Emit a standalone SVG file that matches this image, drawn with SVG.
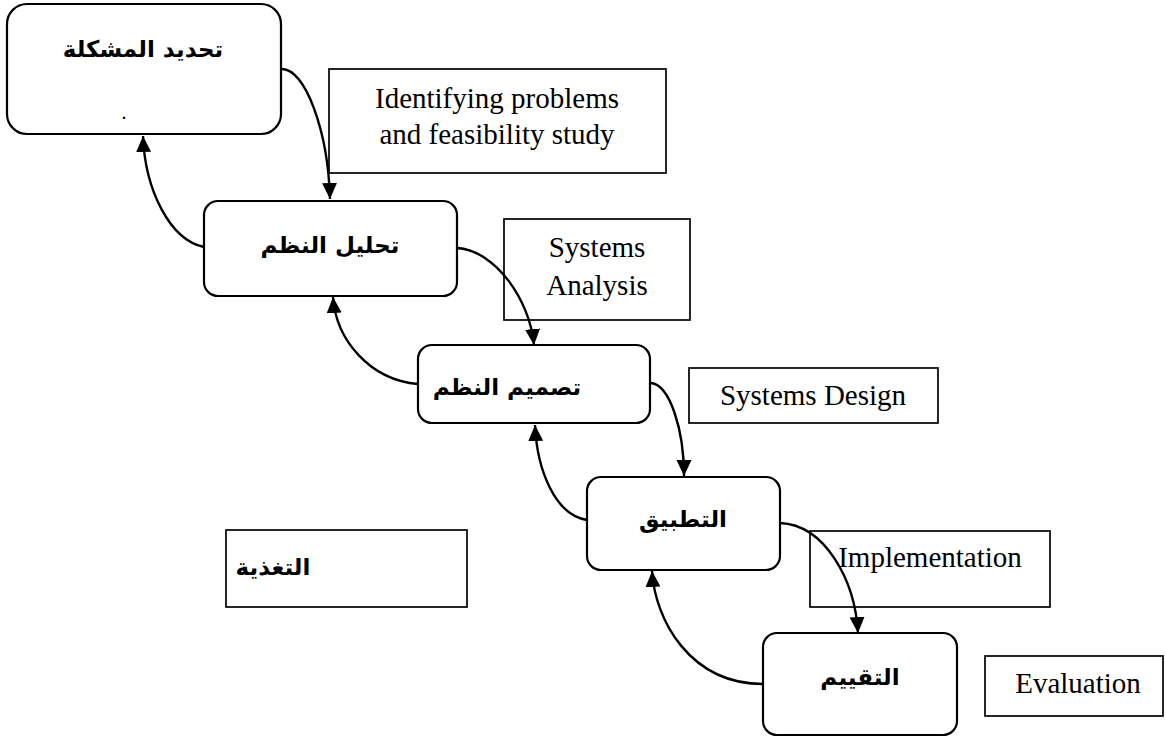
<svg xmlns="http://www.w3.org/2000/svg" width="1166" height="737" viewBox="0 0 1166 737">
  <style>
    .node { fill: #ffffff; stroke: #000000; stroke-width: 2.2; }
    .box { fill: #ffffff; stroke: #000000; stroke-width: 1.7; }
    .ar { font-family: "DejaVu Sans", sans-serif; font-weight: bold; font-size: 23px; fill: #000000; text-anchor: middle; }
    .en { font-family: "Liberation Serif", "Times New Roman", serif; font-size: 29px; fill: #000000; text-anchor: middle; }
    .link { fill: none; stroke: #000000; stroke-width: 2.4; marker-end: url(#arrow); }
  </style>
  <defs>
    <marker id="arrow" markerUnits="userSpaceOnUse" markerWidth="18" markerHeight="16" refX="16" refY="7.5" orient="auto">
      <path d="M0,0 L16,7.5 L0,15 z" fill="#000000"/>
    </marker>
  </defs>

  <rect width="1166" height="737" fill="#ffffff"/>

  <!-- English description boxes -->
  <g id="label-identify">
    <rect class="box" x="329" y="69" width="337" height="104"/>
    <text class="en" x="497" y="108">Identifying problems</text>
    <text class="en" x="497" y="144">and feasibility study</text>
  </g>
  <g id="label-analysis">
    <rect class="box" x="504" y="219" width="186" height="101"/>
    <text class="en" x="597" y="257">Systems</text>
    <text class="en" x="597" y="295">Analysis</text>
  </g>
  <g id="label-design">
    <rect class="box" x="689" y="368" width="249" height="55"/>
    <text class="en" x="813" y="405">Systems Design</text>
  </g>
  <g id="label-implementation">
    <rect class="box" x="810" y="531" width="240" height="76"/>
    <text class="en" x="930" y="567">Implementation</text>
  </g>
  <g id="label-evaluation">
    <rect class="box" x="985" y="656" width="178" height="60"/>
    <text class="en" x="1078" y="693">Evaluation</text>
  </g>
  <g id="label-feedback">
    <rect class="box" x="226" y="530" width="241" height="77"/>
    <text class="ar" x="273" y="575">التغذية</text>
  </g>

  <!-- Stage nodes -->
  <g id="node-problem">
    <rect class="node" x="7" y="4" width="274" height="130" rx="20"/>
    <text class="ar" x="143" y="57">تحديد المشكلة</text>
    <text class="ar" x="124" y="119" style="font-size:12px">.</text>
  </g>
  <g id="node-analysis">
    <rect class="node" x="204" y="201" width="253" height="95" rx="14"/>
    <text class="ar" x="330" y="253">تحليل النظم</text>
  </g>
  <g id="node-design">
    <rect class="node" x="418" y="345" width="232" height="78" rx="14"/>
    <text class="ar" x="507" y="395">تصميم النظم</text>
  </g>
  <g id="node-implementation">
    <rect class="node" x="587" y="477" width="193" height="93" rx="14"/>
    <text class="ar" x="683" y="527">التطبيق</text>
  </g>
  <g id="node-evaluation">
    <rect class="node" x="763" y="633" width="194" height="102" rx="14"/>
    <text class="ar" x="860" y="685">التقييم</text>
  </g>

  <!-- Forward and feedback connectors -->
  <g id="connectors">
    <path class="link" d="M282,69 C305,69 328,130 330,199"/>
    <path class="link" d="M204,247 C170,240 145,190 143,136"/>
    <path class="link" d="M457,248 C495,250 530,300 534,345"/>
    <path class="link" d="M418,384 C370,380 336,340 333,297"/>
    <path class="link" d="M651,383 C670,385 684,430 684,476"/>
    <path class="link" d="M587,520 C555,515 537,470 535,425"/>
    <path class="link" d="M780,523 C825,525 855,580 858,633"/>
    <path class="link" d="M763,684 C690,684 655,620 652,571"/>
  </g>
</svg>
